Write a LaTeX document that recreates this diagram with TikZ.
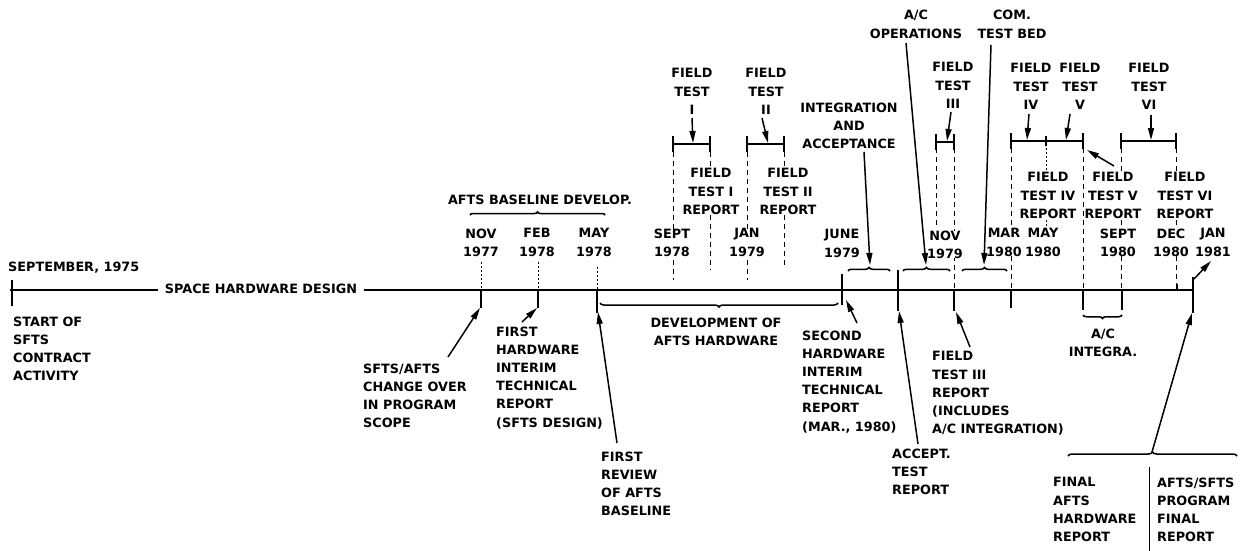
\documentclass[tikz,border=0pt]{standalone}
\usepackage{fontspec}
\setmainfont{DejaVu Sans}
\usetikzlibrary{arrows.meta,decorations.pathreplacing}
\begin{document}
\begin{tikzpicture}[x=1pt,y=-1pt,
  lbl/.style={inner sep=0pt,font=\bfseries\fontsize{12.8}{18.2}\selectfont},
  ml/.style={lbl,align=left,anchor=north west},
  mc/.style={lbl,align=center,anchor=north},
  wh/.style={fill=white},
  tl/.style={line width=2.8pt},
  tick/.style={line width=1.2pt},
  dsh/.style={line width=0.9pt,dash pattern=on 5pt off 4pt},
  dotl/.style={line width=0.9pt,dash pattern=on 1.5pt off 2.5pt},
  arr/.style={line width=1.5pt,-{Triangle[length=12pt,width=6pt]}},
  brc/.style={line width=1.5pt,decorate,decoration={brace,amplitude=4pt}},
  bar/.style={line width=1.5pt}]
\useasboundingbox (0,0) rectangle (1245,551);

% ---------- coordinates ----------
\coordinate (tlA) at (10,290);   \coordinate (tlB) at (158,290);
\coordinate (tlC) at (364,290);  \coordinate (tlD) at (1193,290);
% field test brackets
\coordinate (f1a) at (673,144);  \coordinate (f1b) at (710,144);
\coordinate (f2a) at (747,144);  \coordinate (f2b) at (784,144);
\coordinate (f3a) at (936,142);  \coordinate (f3b) at (954,142);
\coordinate (f4a) at (1011,141); \coordinate (f4b) at (1046,141);
\coordinate (f5b) at (1083,141);
\coordinate (f6a) at (1121,141); \coordinate (f6b) at (1176,141);

% ---------- dashed / dotted guide lines ----------
\draw[dsh] (673,152) -- (673,280);
\draw[dsh] (710,152) -- (710,270);
\draw[dsh] (747,152) -- (747,280);
\draw[dsh] (784,152) -- (784,268);
\draw[dsh] (936,148) -- (936,226);
\draw[dsh] (954,148) -- (954,290);
\draw[dsh] (1011,148) -- (1011,290);
\draw[dotl] (1046,148) -- (1046,226);
\draw[dsh] (1083,148) -- (1083,290);
\draw[dsh] (1121,148) -- (1121,290);
\draw[dsh] (1176,148) -- (1176,284);
\draw[dotl] (481,262) -- (481,290);
\draw[dotl] (538,262) -- (538,290);
\draw[dotl] (597,267) -- (597,290);

% ---------- labels ----------
\node[lbl,anchor=base west] (sept75) at (8,271.7) {SEPTEMBER, 1975};
\node[lbl] (shd) at (261,289) {SPACE HARDWARE DESIGN};
\node[ml] (start) at (13,316.3) {START OF\\SFTS\\CONTRACT\\ACTIVITY};
\node[ml] (chg) at (363,363.3) {SFTS/AFTS\\CHANGE OVER\\IN PROGRAM\\SCOPE};
\node[lbl] (abd) at (540,200) {AFTS BASELINE DEVELOP.};
\node[mc] (nov77) at (481,228.3) {NOV\\1977};
\node[mc] (feb78) at (537,228.3) {FEB\\1978};
\node[mc] (may78) at (594,228.3) {MAY\\1978};
\node[ml] (fhw) at (496,326.3) {FIRST\\HARDWARE\\INTERIM\\TECHNICAL\\REPORT\\(SFTS DESIGN)};
\node[ml] (frev) at (601,451.3) {FIRST\\REVIEW\\OF AFTS\\BASELINE};
\node[mc] (dev) at (716,317.3) {DEVELOPMENT OF\\AFTS HARDWARE};
\node[mc,wh] (sep78) at (672,228.3) {SEPT\\1978};
\node[mc] (ft1) at (692,68.3) {FIELD\\TEST\\I};
\node[mc,wh] (ft1r) at (711,168.3) {FIELD\\TEST I\\REPORT};
\node[mc,wh] (jan79) at (747,228.3) {JAN\\1979};
\node[mc] (ft2) at (766,68.3) {FIELD\\TEST\\II};
\node[mc,wh] (ft2r) at (788,168.3) {FIELD\\TEST II\\REPORT};
\node[mc] (ia) at (849,102.3) {INTEGRATION\\AND\\ACCEPTANCE};
\node[mc] (jun79) at (842,229.3) {JUNE\\1979};
\node[ml] (shw) at (802,330.3) {SECOND\\HARDWARE\\INTERIM\\TECHNICAL\\REPORT\\(MAR., 1980)};
\node[mc] (acops) at (916,10.3) {A/C\\OPERATIONS};
\node[mc] (com) at (1012,10.3) {COM.\\TEST BED};
\node[mc] (ft3) at (953,62.3) {FIELD\\TEST\\III};
\node[mc,wh] (nov79) at (945,230.3) {NOV\\1979};
\node[ml] (ft3r) at (932,351.3) {FIELD\\TEST III\\REPORT\\(INCLUDES\\A/C INTEGRATION)};
\node[ml] (acc) at (892,448.3) {ACCEPT.\\TEST\\REPORT};
\node[mc,wh] (mar80) at (1004,228.3) {MAR\\1980};
\node[mc,wh] (may80) at (1043,228.3) {MAY\\1980};
\node[mc] (ft4) at (1031,63.3) {FIELD\\TEST\\IV};
\node[mc] (ft5) at (1080,63.3) {FIELD\\TEST\\V};
\node[mc] (ft6) at (1149,63.3) {FIELD\\TEST\\VI};
\node[mc,wh] (ft4r) at (1048,172.3) {FIELD\\TEST IV\\REPORT};
\node[mc,wh] (ft5r) at (1113,172.3) {FIELD\\TEST V\\REPORT};
\node[mc,wh] (ft6r) at (1185,172.3) {FIELD\\TEST VI\\REPORT};
\node[mc,wh] (sep80) at (1118,228.3) {SEPT\\1980};
\node[mc,wh] (dec80) at (1171,228.3) {DEC\\1980};
\node[mc] (jan81) at (1213,228.3) {JAN\\1981};
\node[mc] (acint) at (1103,328.3) {A/C\\INTEGRA.};
\node[ml] (fafts) at (1053,477.3) {FINAL\\AFTS\\HARDWARE\\REPORT};
\node[ml] (fprog) at (1157,477.3) {AFTS/SFTS\\PROGRAM\\FINAL\\REPORT};

% ---------- timeline ----------
\draw[tl] (tlA) -- (tlB);
\draw[tl] (tlC) -- (tlD);
\draw[tick] (12,280) -- (12,306);
\draw[tick] (481,290) -- (481,308);
\draw[tick] (538,290) -- (538,308);
\draw[tick] (597,290) -- (597,313);
\draw[tick] (842,274) -- (842,305);
\draw[tick] (898,270) -- (898,311);
\draw[tick] (954,290) -- (954,311);
\draw[tick] (1011,290) -- (1011,308);
\draw[tick] (1083,290) -- (1083,310);
\draw[tick] (1122,290) -- (1122,310);
\draw[tick] (1177,284) -- (1177,290);
\draw[tick] (1193,277) -- (1193,313);
\draw[line width=0.8pt] (1149,467) -- (1149,551);

% ---------- field test brackets ----------
\draw[bar] (f1a) -- (f1b);
\draw[bar] ([yshift=-8pt]f1a) -- ([yshift=8pt]f1a);
\draw[bar] ([yshift=-8pt]f1b) -- ([yshift=8pt]f1b);
\draw[bar] (f2a) -- (f2b);
\draw[bar] ([yshift=-8pt]f2a) -- ([yshift=8pt]f2a);
\draw[bar] ([yshift=-8pt]f2b) -- ([yshift=8pt]f2b);
\draw[bar] (f3a) -- (f3b);
\draw[bar] ([yshift=-8pt]f3a) -- ([yshift=8pt]f3a);
\draw[bar] ([yshift=-8pt]f3b) -- ([yshift=8pt]f3b);
\draw[bar] (f4a) -- (f5b);
\draw[bar] ([yshift=-8pt]f4a) -- ([yshift=8pt]f4a);
\draw[bar] ([yshift=-5pt]f4b) -- ([yshift=5pt]f4b);
\draw[bar] ([yshift=-8pt]f5b) -- ([yshift=8pt]f5b);
\draw[bar] (f6a) -- (f6b);
\draw[bar] ([yshift=-8pt]f6a) -- ([yshift=8pt]f6a);
\draw[bar] ([yshift=-8pt]f6b) -- ([yshift=8pt]f6b);

% ---------- braces ----------
\draw[brc,decoration={amplitude=3pt}] (470,215) -- (605,215);
\draw[brc] (838,303) -- (600,303);
\draw[brc,decoration={amplitude=3.5pt}] (848,271) -- (890,271);
\draw[brc,decoration={amplitude=3.5pt}] (903,271) -- (950,271);
\draw[brc,decoration={amplitude=3.5pt}] (962,271) -- (1007,271);
\draw[brc,decoration={amplitude=3.5pt}] (1122,315) -- (1083,315);
\draw[brc] (1068,456) -- (1237,456);

% ---------- arrows ----------
\coordinate (a1s) at (448,357);  \coordinate (a1e) at (480,308);
\coordinate (a2s) at (522,322);  \coordinate (a2e) at (537,308);
\coordinate (a3s) at (617,443);  \coordinate (a3e) at (598,312);
\coordinate (a4s) at (857,323);  \coordinate (a4e) at (846,300);
\coordinate (a5s) at (864,152);  \coordinate (a5e) at (870,265);
\coordinate (a6s) at (906,43);   \coordinate (a6e) at (926,265);
\coordinate (a7s) at (991,45);   \coordinate (a7e) at (984,265);
\coordinate (a8s) at (918,444);  \coordinate (a8e) at (899,311);
\coordinate (a9s) at (970,347);  \coordinate (a9e) at (956,312);
\coordinate (a10s) at (692,118); \coordinate (a10e) at (693,143);
\coordinate (a11s) at (762,118); \coordinate (a11e) at (768,143);
\coordinate (a12s) at (951,112); \coordinate (a12e) at (947,141);
\coordinate (a13s) at (1029,114);\coordinate (a13e) at (1027,140);
\coordinate (a14s) at (1070,114);\coordinate (a14e) at (1066,140);
\coordinate (a15s) at (1151,115);\coordinate (a15e) at (1151,140);
\coordinate (a16s) at (1114,166);\coordinate (a16e) at (1087,150);
\coordinate (a17s) at (1152,452);\coordinate (a17e) at (1192,313);
\coordinate (a18s) at (1194,279);\coordinate (a18e) at (1211,261);
\foreach \i in {1,...,18} \draw[arr] (a\i s) -- (a\i e);
\end{tikzpicture}
\end{document}
